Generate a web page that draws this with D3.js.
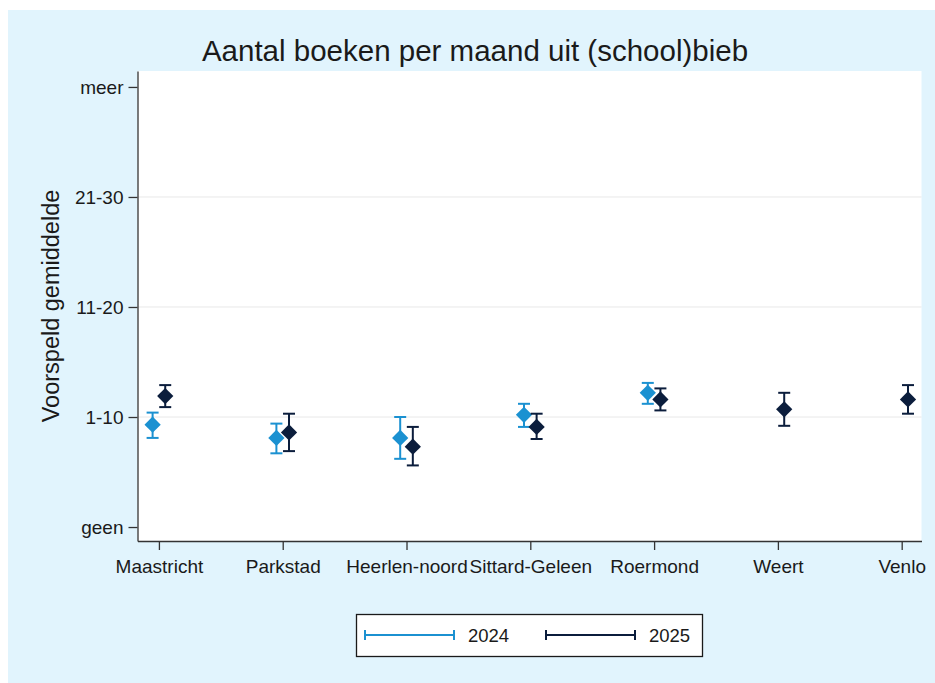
<!DOCTYPE html>
<html>
<head>
<meta charset="utf-8">
<script src="https://cdn.jsdelivr.net/npm/d3@7"></script>
<style>
  body { margin: 0; background: #fff; }
  text { font-family: "Liberation Sans", Arial, sans-serif; fill: #1a1a1a; }
</style>
</head>
<body>
<svg id="chart" width="935" height="683"></svg>
<script>
// Regio's en geschatte gemiddelden (0 = geen, 1 = 1-10, 2 = 11-20, 3 = 21-30, 4 = meer)
var regions = ["Maastricht", "Parkstad", "Heerlen-noord", "Sittard-Geleen", "Roermond", "Weert", "Venlo"];
var yTickValues = [0, 1, 2, 3, 4];
var yTickLabels = ["geen", "1-10", "11-20", "21-30", "meer"];

var mean2024 = [0.93, 0.81, 0.81, 1.02, 1.22, null, null];
var lo2024   = [0.81, 0.67, 0.62, 0.91, 1.12, null, null];
var hi2024   = [1.04, 0.94, 1.00, 1.12, 1.31, null, null];

var mean2025 = [1.19, 0.86, 0.73, 0.91, 1.16, 1.07, 1.16];
var lo2025   = [1.09, 0.69, 0.56, 0.80, 1.06, 0.92, 1.03];
var hi2025   = [1.29, 1.03, 0.91, 1.03, 1.26, 1.22, 1.29];

var seriesNames = ["2024", "2025"];
var seriesColors = ["#1b91d1", "#0b1d3c"];

var svg = d3.select("#chart");

// achtergrond
svg.append("rect")
	.attr("x", 8).attr("y", 10)
	.attr("width", 927).attr("height", 673)
	.attr("fill", "#e1f4fd");

var plotLeft = 137.5, plotRight = 921.5, plotTop = 71, plotBottom = 541;

svg.append("rect")
	.attr("x", plotLeft).attr("y", plotTop)
	.attr("width", plotRight - plotLeft).attr("height", plotBottom - plotTop)
	.attr("fill", "#fff");

var xScale = d3.scaleLinear()
	.domain([0.827, 7.16])
	.range([plotLeft, plotRight]);

var yScale = d3.scaleLinear()
	.domain([-0.127, 4.145])
	.range([plotBottom, plotTop]);

// rasterlijnen
svg.append("g").selectAll("line")
	.data(yTickValues.slice(1, 4))
	.enter().append("line")
	.attr("x1", plotLeft).attr("x2", plotRight)
	.attr("y1", function(d){ return yScale(d); })
	.attr("y2", function(d){ return yScale(d); })
	.attr("stroke", "#e8e8e8")
	.attr("stroke-width", 1);

// assen
var yAxis = d3.axisLeft(yScale)
	.tickValues(yTickValues)
	.tickFormat(function(d, i){ return yTickLabels[i]; })
	.tickSize(9).tickSizeOuter(0).tickPadding(5);

var yG = svg.append("g")
	.attr("transform", "translate(" + plotLeft + ",0)")
	.call(yAxis);

var xAxis = d3.axisBottom(xScale)
	.tickValues(d3.range(1, regions.length + 1))
	.tickFormat(function(d){ return regions[d - 1]; })
	.tickSize(9).tickSizeOuter(0).tickPadding(10);

var xG = svg.append("g")
	.attr("transform", "translate(0," + plotBottom + ")")
	.call(xAxis);

[yG, xG].forEach(function(g){
	g.selectAll("path, line").attr("stroke", "#333").attr("stroke-width", 1.3);
	g.selectAll("text").style("font-size", "19px").attr("fill", "#1a1a1a");
});

// titels
svg.append("text")
	.attr("x", 475).attr("y", 61)
	.attr("text-anchor", "middle")
	.style("font-size", "29.5px")
	.text("Aantal boeken per maand uit (school)bieb");

svg.append("text")
	.attr("transform", "translate(59," + ((plotTop + plotBottom) / 2) + ") rotate(-90)")
	.attr("text-anchor", "middle")
	.style("font-size", "23.5px")
	.text("Voorspeld gemiddelde");

// punten met betrouwbaarheidsintervallen
var series = [
	{ mean: mean2024, lo: lo2024, hi: hi2024, offset: -0.051 },
	{ mean: mean2025, lo: lo2025, hi: hi2025, offset: 0.051 }
];

var diamond = d3.symbol().type(d3.symbolSquare).size(132);
var capHalf = 6;

series.forEach(function(s, si){
	var rows = [];
	s.mean.forEach(function(m, i){
		if (m !== null) rows.push({ x: i + 1 + s.offset, m: m, lo: s.lo[i], hi: s.hi[i] });
	});
	var g = svg.append("g").attr("stroke", seriesColors[si]).attr("fill", seriesColors[si]);

	g.selectAll("line.ci").data(rows).enter().append("line")
		.attr("x1", function(d){ return xScale(d.x); })
		.attr("x2", function(d){ return xScale(d.x); })
		.attr("y1", function(d){ return yScale(d.lo); })
		.attr("y2", function(d){ return yScale(d.hi); })
		.attr("stroke-width", 2);

	["lo", "hi"].forEach(function(k){
		g.selectAll("line.cap-" + k).data(rows).enter().append("line")
			.attr("x1", function(d){ return xScale(d.x) - capHalf; })
			.attr("x2", function(d){ return xScale(d.x) + capHalf; })
			.attr("y1", function(d){ return yScale(d[k]); })
			.attr("y2", function(d){ return yScale(d[k]); })
			.attr("stroke-width", 2);
	});

	g.selectAll("path.pt").data(rows).enter().append("path")
		.attr("d", diamond)
		.attr("stroke", "none")
		.attr("transform", function(d){
			return "translate(" + xScale(d.x) + "," + yScale(d.m) + ") rotate(45)";
		});
});

// legenda
var legend = svg.append("g");
legend.append("rect")
	.attr("x", 356.5).attr("y", 614.5)
	.attr("width", 346).attr("height", 42)
	.attr("fill", "#fff").attr("stroke", "#1a1a1a").attr("stroke-width", 1.3);

var legendX = [365, 546];
seriesNames.forEach(function(name, i){
	var x0 = legendX[i], x1 = x0 + 89, yl = 635;
	var lg = legend.append("g").attr("stroke", seriesColors[i]).attr("stroke-width", 2);
	lg.append("line").attr("x1", x0).attr("x2", x1).attr("y1", yl).attr("y2", yl);
	lg.append("line").attr("x1", x0).attr("x2", x0).attr("y1", yl - 5).attr("y2", yl + 5);
	lg.append("line").attr("x1", x1).attr("x2", x1).attr("y1", yl - 5).attr("y2", yl + 5);
	legend.append("text")
		.attr("x", x1 + 14).attr("y", yl + 7)
		.style("font-size", "18.5px")
		.text(name);
});
</script>
</body>
</html>
